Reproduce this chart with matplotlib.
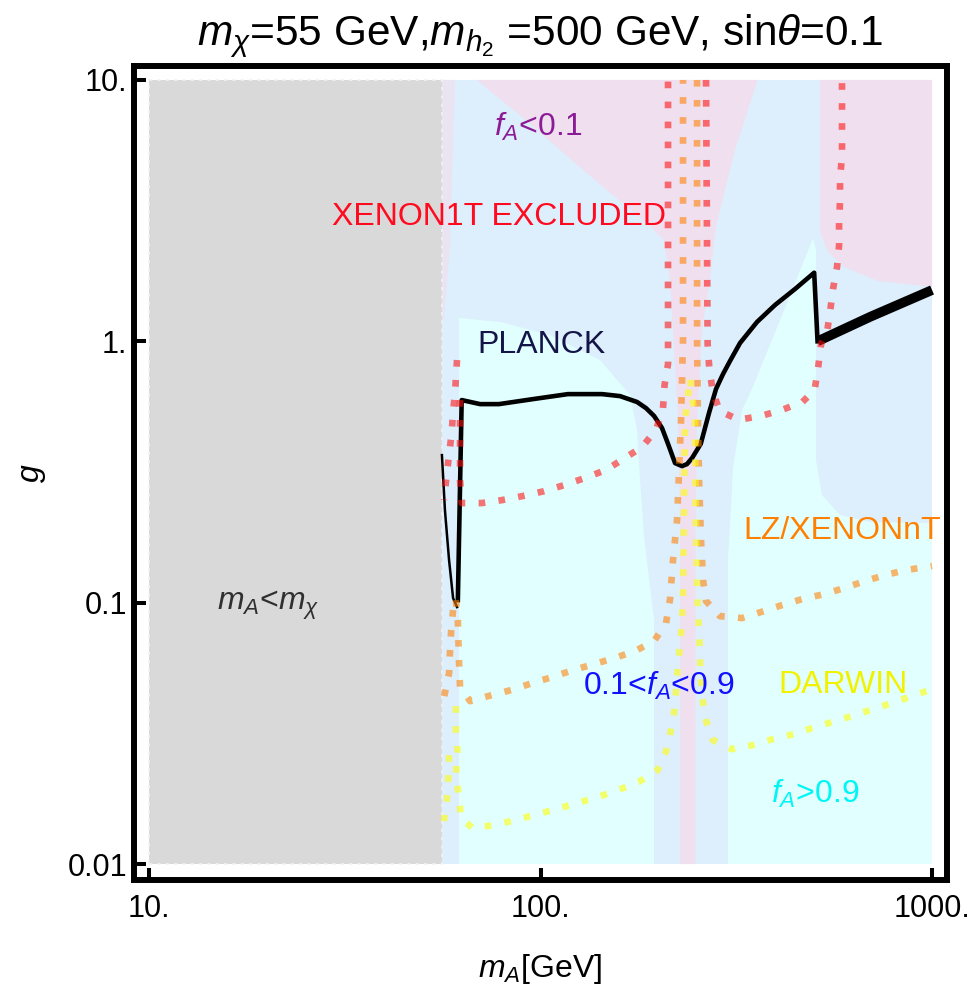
import numpy as np
import matplotlib
matplotlib.use('Agg')
import matplotlib.pyplot as plt
from matplotlib.patches import Polygon, Rectangle

plt.rcParams['font.family'] = ['Liberation Sans', 'DejaVu Sans']
plt.rcParams['mathtext.fontset'] = 'custom'
plt.rcParams['mathtext.rm'] = 'Liberation Sans'
plt.rcParams['mathtext.it'] = 'Liberation Sans:italic'
plt.rcParams['mathtext.bf'] = 'Liberation Sans:bold'

# ---------------- data ----------------
x_ticks = [10, 100, 1000]
x_tick_labels = ['10.', '100.', '1000.']
y_ticks = [0.01, 0.1, 1, 10]
y_tick_labels = ['0.01', '0.1', '1.', '10.']

m_chi_edge = 56.0          # right edge of the m_A < m_chi region
mA_range = [10, 1000]
g_range = [0.01, 10]

# PLANCK relic-density curve
planck_thin_mA = [56.0, 57.0, 58.4, 59.8, 61.2]
planck_thin_g = [0.367, 0.226, 0.1455, 0.1041, 0.0962]
planck_mA = [61.5, 62.9, 70.1, 78.3, 95.7, 117.5, 143.6, 159.6, 176.4, 186.0, 195.0, 204.3,
             211.7, 220.6, 229.9, 236.7, 243.8, 256.6, 269.4, 280.7, 292.6, 304.8, 323.3,
             357.3, 397.2, 446.7, 500.0, 510.0]
planck_g = [0.1023, 0.596, 0.575, 0.575, 0.601, 0.628, 0.628, 0.617, 0.586, 0.555, 0.518,
            0.466, 0.405, 0.342, 0.333, 0.339, 0.3575, 0.405, 0.532, 0.657, 0.750, 0.841,
            0.985, 1.186, 1.377, 1.585, 1.83, 1.0]
planck_hi_mA = [510.0, 694.5, 1000]
planck_hi_g = [1.0, 1.24, 1.571]

# XENON1T exclusion contour (several branches)
xenon_a_mA = [61.2, 60.5, 59.8, 59.3, 58.4, 57.5, 56.7]
xenon_a_g = [0.848, 0.640, 0.536, 0.446, 0.367, 0.302, 0.247]
xenon_mA = [62.3, 62.3, 62.3, 62.3, 62.9, 70.8, 79.9, 90.2, 102.1, 115.2, 129.9, 147.0,
            162.4, 181.7, 197.2, 205.5, 207.4, 211.7, 211.7]
xenon_g = [0.596, 0.430, 0.3575, 0.294, 0.2405, 0.2405, 0.247, 0.256, 0.267, 0.282, 0.300,
           0.322, 0.354, 0.394, 0.458, 0.555, 0.680, 0.819, 10]
xenon_r_mA = [264.7, 267.2, 269.8, 275.5, 287.0, 320.6, 365.8, 413.2, 466.7, 501.2, 511.5,
              520.7, 539.3, 548.9, 558.6, 571.9, 578.8, 578.8, 582.1, 582.1, 589.0, 589.0, 589.0]
xenon_r_g = [10, 0.977, 0.790, 0.640, 0.541, 0.501, 0.518, 0.546, 0.586, 0.651, 0.790,
             0.977, 1.085, 1.295, 1.585, 1.925, 2.32, 2.86, 3.44, 4.25, 5.07, 6.21, 10]

# LZ / XENONnT projection
lz_a_mA = [59.8, 59.1, 58.7, 58.4, 56.7]
lz_a_g = [0.0937, 0.0772, 0.0647, 0.0538, 0.0435]
lz_mA = [60.8, 61.5, 61.9, 62.3, 66.1, 74.3, 84.1, 95.1, 107.0, 121.1, 137.0, 154.5, 174.4,
         195.0, 209.2, 214.2, 218.0, 223.2, 225.9, 228.5, 231.2, 231.2]
lz_g = [0.1023, 0.0858, 0.0603, 0.0475, 0.0420, 0.0441, 0.0463, 0.0492, 0.0519, 0.0552,
        0.0582, 0.0614, 0.0653, 0.0713, 0.0835, 0.1032, 0.1455, 0.207, 0.322, 0.500, 1.012, 10]
lz_r_mA = [251.1, 251.1, 252.6, 254.1, 257.0, 260.1, 264.7, 287.3, 327.1, 365.8, 414.0,
           465.5, 529.9, 596.0, 674.3, 758.5, 858.3, 1000]
lz_r_g = [10, 1.012, 0.458, 0.294, 0.1736, 0.1221, 0.1014, 0.0888, 0.0873, 0.0921, 0.0979,
          0.1032, 0.1078, 0.1137, 0.121, 0.1275, 0.1333, 0.1381]

# DARWIN projection
darwin_a_mA = [58.4, 58.0, 56.7]
darwin_a_g = [0.0261, 0.0192, 0.0146]
darwin_mA = [60.8, 60.8, 61.4, 60.8, 61.9, 62.7, 67.2, 76.1, 85.8, 96.8, 109.5, 123.7, 139.4,
             157.8, 178.1, 199.1, 209.2, 216.0, 220.3, 222.6, 224.9, 227.2, 229.5, 231.2,
             232.6, 233.9, 241.0, 248.1, 248.9, 251.1, 254.1, 256.6, 259.2, 264.7, 275.5,
             307.9, 347.8, 392.6, 443.6, 501.2, 565.9, 639.4, 721.9, 815.1, 920.9, 1000]
darwin_g = [0.0402, 0.0320, 0.0268, 0.0219, 0.0180, 0.0150, 0.0137, 0.0141, 0.0147, 0.01545,
            0.0162, 0.0171, 0.0180, 0.0192, 0.0206, 0.0229, 0.0270, 0.0331, 0.0395, 0.0492,
            0.0608, 0.0682, 0.0828, 0.1078, 0.247, 0.500, 0.724, 0.500, 0.247, 0.1117, 0.0772,
            0.0519, 0.0428, 0.0355, 0.0298, 0.0275, 0.0285, 0.0301, 0.0314, 0.0334, 0.0352,
            0.0373, 0.0395, 0.0420, 0.0447, 0.0467]

# f_A regions (boundaries)
blue_mA = [56.0, 56.0, 61.9, 61.9, 78.8, 105.7, 141.9, 169.3, 176.4, 179.6, 183.9, 195.0,
           195.0, 301.2, 301.2, 310.2, 327.1, 345.0, 409.1, 496.6, 505.5, 505.5, 523.6,
           582.1, 694.5, 1000, 1000]
blue_g = [10, 0.01, 0.01, 1.228, 1.186, 1.057, 0.848, 0.623, 0.458, 0.294, 0.178, 0.0858,
          0.01, 0.01, 0.1455, 0.327, 0.546, 0.645, 1.206, 2.48, 2.24, 0.351, 0.258, 0.2164,
          0.2035, 0.2016, 10]
pink1_mA = [68.8, 76.5, 86.6, 102.7, 122.5, 147.9, 176.4, 192.7, 206.7, 214.2, 218.0, 224.5,
            227.2, 227.2, 248.9, 248.9, 251.1, 258.5, 271.0, 280.7, 313.9, 358.5]
pink1_g = [10, 8.76, 7.54, 6.05, 4.81, 3.79, 3.04, 2.71, 2.44, 1.717, 1.105, 0.500, 0.207,
           0.01, 0.01, 0.207, 0.5, 1.105, 1.717, 2.76, 5.40, 10]
pink2_mA = [517.6, 517.6, 542.5, 596.0, 728.0, 1000, 1000]
pink2_g = [10, 2.62, 2.20, 1.925, 1.701, 1.614, 10]
pink3_mA = [56.0, 60.5, 58.7, 56.6, 56.0]
pink3_g = [10, 10, 2.24, 1.2, 1.2]

# labels: (text, mA, g, colour)
labels = [
    (r'$f_A$<0.1', 98.5, 6.61, '#8c1c96'),
    ('XENON1T EXCLUDED', 78.3, 2.99, '#ff0a1e'),
    ('PLANCK', 100.3, 0.968, '#141448'),
    ('LZ/XENONnT', 589.0, 0.188, '#ff8000'),
    (r'$m_A$<$m_\chi$', 20.1, 0.0979, '#303030'),
    (r'0.1<$f_A$<0.9', 200.7, 0.048, '#1010ff'),
    ('DARWIN', 592.6, 0.0483, '#f2f200'),
    (r'$f_A$>0.9', 502.4, 0.0185, '#00f5f5'),
]

# ---------------- figure ----------------
fig = plt.figure(figsize=(9.74, 9.92), dpi=100)
ax = fig.add_axes([0.1376, 0.1124, 0.8342, 0.8211])
ax.set_xscale('log')
ax.set_yscale('log')
ax.set_xlim(9.157, 1089)
ax.set_ylim(0.00865, 11.31)

cyan = '#e1ffff'
blue = '#ddeefc'
pink = '#f0e0ef'
grey = '#d9d9d9'

ax.add_patch(Rectangle((mA_range[0], g_range[0]), mA_range[1] - mA_range[0],
                       g_range[1] - g_range[0], facecolor=cyan, edgecolor='none', zorder=0))
ax.add_patch(Polygon(np.column_stack([blue_mA, blue_g]), closed=True, facecolor=blue,
                     edgecolor='none', zorder=1))
for pm, pg in [(pink1_mA, pink1_g), (pink2_mA, pink2_g)]:
    ax.add_patch(Polygon(np.column_stack([pm, pg]), closed=True, facecolor=pink,
                         edgecolor='none', zorder=2))
ax.add_patch(Polygon(np.column_stack([pink3_mA, pink3_g]), closed=True, facecolor=pink,
                     edgecolor='none', alpha=0.7, zorder=2))
ax.add_patch(Rectangle((mA_range[0], g_range[0]), m_chi_edge - mA_range[0],
                       g_range[1] - g_range[0], facecolor=grey, edgecolor='#f2f2f2',
                       linestyle=(0, (2, 3)), linewidth=1.2, zorder=3))

# PLANCK curve
ax.plot(planck_thin_mA, planck_thin_g, color='black', lw=1.8, zorder=5,
        solid_joinstyle='round')
ax.plot(planck_mA, planck_g, color='black', lw=3.3, zorder=5, solid_joinstyle='round')
ax.plot(planck_hi_mA, planck_hi_g, color='black', lw=7, zorder=5, solid_capstyle='butt')

# dotted projections
dot = (0, (1.0, 2.0))
def dotted(xs, ys, color):
    ax.plot(xs, ys, color=color, lw=4.8, linestyle=dot, dash_capstyle='butt',
            alpha=0.58, zorder=6)

for xs, ys in [(xenon_a_mA, xenon_a_g), (xenon_mA, xenon_g), (xenon_r_mA, xenon_r_g)]:
    dotted(xs, ys, '#ff1010')
for xs, ys in [(lz_a_mA, lz_a_g), (lz_mA, lz_g), (lz_r_mA, lz_r_g)]:
    dotted(xs, ys, '#ff8000')
for xs, ys in [(darwin_a_mA, darwin_a_g), (darwin_mA, darwin_g)]:
    dotted(xs, ys, '#ffff00')

for txt, xm, yg, col in labels:
    ax.text(xm, yg, txt, color=col, fontsize=23, ha='center', va='center', zorder=8)

# axes styling
ax.set_xticks(x_ticks)
ax.set_xticklabels(x_tick_labels)
ax.set_yticks(y_ticks)
ax.set_yticklabels(y_tick_labels)
ax.minorticks_off()
ax.tick_params(direction='in', length=8.6, width=2.9, labelsize=22, color='black')
ax.tick_params(axis='x', pad=10)
ax.tick_params(axis='y', pad=5)
for s in ax.spines.values():
    s.set_linewidth(4.3)
    s.set_color('black')

ax.set_xlabel(r'$m_A$[GeV]', fontsize=23, labelpad=20)
ax.set_ylabel(r'$g$', fontsize=23, labelpad=14)
ax.set_title(r'$m_\chi$=55 GeV,$m_{h_2}$ =500 GeV, sin$\theta$=0.1', fontsize=30.5, pad=15)

fig.savefig('out.png', dpi=100)
